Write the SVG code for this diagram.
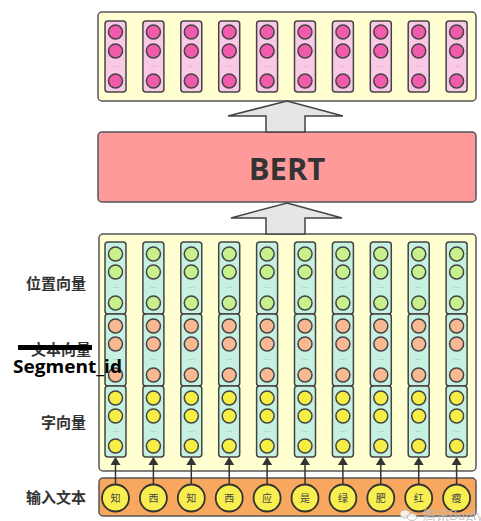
<svg xmlns="http://www.w3.org/2000/svg" xmlns:xlink="http://www.w3.org/1999/xlink" width="481" height="521" viewBox="0 0 481 521">
<style>
.panel{fill:#ffffd2;stroke:#555;stroke-width:1.5}
.col{stroke:#444;stroke-width:1.5}
.pinkcol{fill:#f9c9e6}
.mint{fill:#c6f0e0}
.cir{stroke:#444;stroke-width:1.5}
.pk{fill:#f25aac}
.gr{fill:#c8f08c}
.or{fill:#f8b892}
.ye{fill:#f6ee44}
.dots{font-family:"DejaVu Sans",sans-serif;font-size:7px;fill:#9aa;text-anchor:middle}
.lbl{font-family:"Noto Sans CJK SC","Noto Sans",sans-serif;font-weight:700;font-size:15px;fill:#333;text-anchor:end}
.tok{fill:#f8ee50;stroke:#333;stroke-width:1.8}
.tokt{font-family:"Noto Sans CJK SC",sans-serif;font-size:10px;fill:#444;text-anchor:middle}
.big{fill:#e6e6e6;stroke:#444;stroke-width:1.5}
.lnk{stroke:#333;stroke-width:1.5;fill:none}
</style>
<defs>
<marker id="ah" viewBox="0 0 8 10" refX="7" refY="5" markerWidth="8" markerHeight="10" markerUnits="userSpaceOnUse" orient="auto">
<path d="M0,0 L8,5 L0,10 z" fill="#333"/>
</marker>
<g id="outcol">
<rect class="col pinkcol" x="-10.5" y="21" width="21" height="71" rx="3"/>
<circle class="cir pk" cx="0" cy="32" r="7"/>
<circle class="cir pk" cx="0" cy="51" r="7"/>
<text class="dots" x="0" y="69">···</text>
<circle class="cir pk" cx="0" cy="81" r="7"/>
</g>
<g id="embcol">
<rect class="col mint" x="-10.5" y="242" width="21" height="72" rx="3"/>
<rect class="col mint" x="-10.5" y="314" width="21" height="72" rx="3"/>
<rect class="col mint" x="-10.5" y="386" width="21" height="71" rx="3"/>
<circle class="cir gr" cx="0" cy="254" r="7"/>
<circle class="cir gr" cx="0" cy="272" r="7"/>
<text class="dots" x="0" y="290">···</text>
<circle class="cir gr" cx="0" cy="303" r="7"/>
<circle class="cir or" cx="0" cy="326" r="7"/>
<circle class="cir or" cx="0" cy="344" r="7"/>
<text class="dots" x="0" y="362">···</text>
<circle class="cir or" cx="0" cy="375" r="7"/>
<circle class="cir ye" cx="0" cy="398" r="7"/>
<circle class="cir ye" cx="0" cy="416" r="7"/>
<text class="dots" x="0" y="434">···</text>
<circle class="cir ye" cx="0" cy="446" r="7"/>
</g>
</defs>

<g id="output">
<rect class="panel" x="98" y="12" width="378" height="89" rx="4"/>
<use xlink:href="#outcol" x="115.5"/>
<use xlink:href="#outcol" x="153.4"/>
<use xlink:href="#outcol" x="191.3"/>
<use xlink:href="#outcol" x="229.2"/>
<use xlink:href="#outcol" x="267.1"/>
<use xlink:href="#outcol" x="305"/>
<use xlink:href="#outcol" x="342.9"/>
<use xlink:href="#outcol" x="380.8"/>
<use xlink:href="#outcol" x="418.7"/>
<use xlink:href="#outcol" x="456.6"/>
</g>

<g id="bert">
<rect x="98" y="132" width="378" height="70" rx="4" fill="#ff9a9a" stroke="#555" stroke-width="1.5"/>
<text x="287" y="180" text-anchor="middle" font-family="'Open Sans','Liberation Sans',sans-serif" font-weight="700" font-size="31" fill="#333">BERT</text>
</g>

<g id="embeddings">
<rect class="panel" x="99" y="234" width="377" height="237" rx="4"/>
<use xlink:href="#embcol" x="115.5"/>
<use xlink:href="#embcol" x="153.4"/>
<use xlink:href="#embcol" x="191.3"/>
<use xlink:href="#embcol" x="229.2"/>
<use xlink:href="#embcol" x="267.1"/>
<use xlink:href="#embcol" x="305"/>
<use xlink:href="#embcol" x="342.9"/>
<use xlink:href="#embcol" x="380.8"/>
<use xlink:href="#embcol" x="418.7"/>
<use xlink:href="#embcol" x="456.6"/>
</g>

<g id="labels">
<text class="lbl" x="86" y="289">位置向量</text>
<text class="lbl" x="91" y="355" font-size="16">文本向量</text>
<rect x="18" y="345" width="74" height="5" fill="#000"/>
<text x="13" y="373" font-family="'Open Sans','Liberation Sans',sans-serif" font-weight="700" font-size="17" fill="#000" textLength="109" lengthAdjust="spacingAndGlyphs">Segment_id</text>
<text class="lbl" x="86" y="428">字向量</text>
<text class="lbl" x="86" y="503">输入文本</text>
</g>

<g id="input">
<rect x="99" y="478" width="377" height="38" rx="4" fill="#f8a85e" stroke="#555" stroke-width="1.5"/>
<g id="tok0"><circle class="tok" cx="115.5" cy="498" r="13.5"/><text class="tokt" x="115.5" y="502">知</text></g>
<g id="tok1"><circle class="tok" cx="153.4" cy="498" r="13.5"/><text class="tokt" x="153.4" y="502">西</text></g>
<g id="tok2"><circle class="tok" cx="191.3" cy="498" r="13.5"/><text class="tokt" x="191.3" y="502">知</text></g>
<g id="tok3"><circle class="tok" cx="229.2" cy="498" r="13.5"/><text class="tokt" x="229.2" y="502">西</text></g>
<g id="tok4"><circle class="tok" cx="267.1" cy="498" r="13.5"/><text class="tokt" x="267.1" y="502">应</text></g>
<g id="tok5"><circle class="tok" cx="305" cy="498" r="13.5"/><text class="tokt" x="305" y="502">是</text></g>
<g id="tok6"><circle class="tok" cx="342.9" cy="498" r="13.5"/><text class="tokt" x="342.9" y="502">绿</text></g>
<g id="tok7"><circle class="tok" cx="380.8" cy="498" r="13.5"/><text class="tokt" x="380.8" y="502">肥</text></g>
<g id="tok8"><circle class="tok" cx="418.7" cy="498" r="13.5"/><text class="tokt" x="418.7" y="502">红</text></g>
<g id="tok9"><circle class="tok" cx="456.6" cy="498" r="13.5"/><text class="tokt" x="456.6" y="502">瘦</text></g>
</g>

<g id="connectors">
<polygon class="big" points="287,101 343,116 305,116 305,132 266,132 266,116 228,116"/>
<polygon class="big" points="287,203 342,218 305,218 305,234 266,234 266,218 231,218"/>
<line class="lnk" x1="115.5" y1="484" x2="115.5" y2="458" marker-end="url(#ah)"/>
<line class="lnk" x1="153.4" y1="484" x2="153.4" y2="458" marker-end="url(#ah)"/>
<line class="lnk" x1="191.3" y1="484" x2="191.3" y2="458" marker-end="url(#ah)"/>
<line class="lnk" x1="229.2" y1="484" x2="229.2" y2="458" marker-end="url(#ah)"/>
<line class="lnk" x1="267.1" y1="484" x2="267.1" y2="458" marker-end="url(#ah)"/>
<line class="lnk" x1="305" y1="484" x2="305" y2="458" marker-end="url(#ah)"/>
<line class="lnk" x1="342.9" y1="484" x2="342.9" y2="458" marker-end="url(#ah)"/>
<line class="lnk" x1="380.8" y1="484" x2="380.8" y2="458" marker-end="url(#ah)"/>
<line class="lnk" x1="418.7" y1="484" x2="418.7" y2="458" marker-end="url(#ah)"/>
<line class="lnk" x1="456.6" y1="484" x2="456.6" y2="458" marker-end="url(#ah)"/>
</g>

<g id="watermark" opacity="0.85">
<ellipse cx="405" cy="514" rx="5" ry="4" fill="#fff" stroke="#bbb" stroke-width="1"/>
<ellipse cx="412" cy="517" rx="4.5" ry="3.5" fill="#fff" stroke="#bbb" stroke-width="1"/>
<text x="423" y="520" font-family="'Noto Sans CJK SC','Noto Sans',sans-serif" font-size="13" fill="#bbb">腾讯Bugly</text>
</g>
</svg>
